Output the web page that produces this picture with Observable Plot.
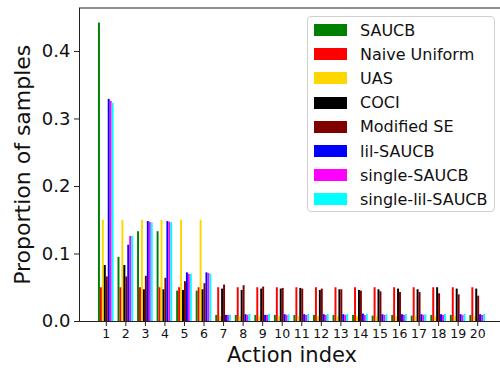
<!DOCTYPE html>
<html>
<head>
<meta charset="utf-8">
<script src="https://cdn.jsdelivr.net/npm/d3@7"></script>
<script src="https://cdn.jsdelivr.net/npm/@observablehq/plot@0.6"></script>
<style>
  html, body { margin: 0; padding: 0; background: #fff; }
  #wrap { position: relative; width: 500px; height: 371px; font-family: "DejaVu Sans", sans-serif; }
  #legend { position: absolute; left: 307px; top: 16px; width: 188px; height: 196px;
    border: 1px solid #d0d0d0; border-radius: 4px; background: rgba(255,255,255,0.85); box-sizing: border-box; }
  .item { position: absolute; left: 0; height: 24px; display: flex; align-items: center; font-size: 16px; color: #111; white-space: nowrap; }
  .sw { width: 33px; height: 12px; margin-left: 6px; margin-right: 13px; }
</style>
</head>
<body>
<div id="wrap"></div>
<script>
const actions = [1,2,3,4,5,6,7,8,9,10,11,12,13,14,15,16,17,18,19,20];
const seriesNames = ["SAUCB","Naive Uniform","UAS","COCI","Modified SE","lil-SAUCB","single-SAUCB","single-lil-SAUCB"];
const seriesColors = ["#008000","#ff0000","#ffd700","#000000","#800000","#0000ff","#ff00ff","#00ffff"];

const saucb = [0.442,0.095,0.133,0.133,0.045,0.045,0.009,0.009,0.009,0.009,0.009,0.009,0.009,0.009,0.008,0.009,0.008,0.009,0.009,0.009];
const naiveUniform = [0.05,0.05,0.05,0.05,0.05,0.05,0.05,0.05,0.05,0.05,0.05,0.05,0.05,0.05,0.05,0.05,0.05,0.05,0.05,0.05];
const uas = [0.15,0.15,0.15,0.15,0.15,0.15,0.007,0.007,0.007,0.007,0.007,0.007,0.007,0.007,0.007,0.007,0.007,0.007,0.007,0.007];
const coci = [0.083,0.083,0.047,0.047,0.046,0.047,0.048,0.046,0.048,0.048,0.049,0.046,0.047,0.046,0.047,0.048,0.047,0.05,0.048,0.048];
const modifiedSE = [0.066,0.066,0.067,0.064,0.059,0.056,0.054,0.053,0.051,0.049,0.048,0.048,0.047,0.045,0.044,0.043,0.043,0.041,0.0395,0.0375];
const lilSAUCB = [0.329,0.113,0.148,0.148,0.072,0.072,0.009,0.010,0.009,0.010,0.010,0.010,0.010,0.011,0.010,0.010,0.010,0.010,0.010,0.010];
const singleSAUCB = [0.326,0.126,0.147,0.147,0.070,0.071,0.009,0.009,0.009,0.009,0.009,0.009,0.009,0.009,0.009,0.009,0.009,0.009,0.009,0.009];
const singleLilSAUCB = [0.323,0.126,0.146,0.146,0.070,0.070,0.0095,0.0105,0.0105,0.010,0.0105,0.0105,0.0105,0.0105,0.010,0.0105,0.010,0.0105,0.0105,0.0105];
const yTicks = [0, 0.1, 0.2, 0.3, 0.4];

const allSeries = [saucb, naiveUniform, uas, coci, modifiedSE, lilSAUCB, singleSAUCB, singleLilSAUCB];
const barW = 0.1;
const rows = [];
allSeries.forEach((vals, i) => {
  vals.forEach((v, j) => {
    rows.push({action: actions[j], series: seriesNames[i], idx: i, value: v});
  });
});

const chart = Plot.plot({
  width: 500,
  height: 371,
  marginLeft: 79,
  marginRight: -4,
  marginTop: 7.5,
  marginBottom: 50,
  style: {fontFamily: "DejaVu Sans, sans-serif", background: "white", color: "#111"},
  x: {domain: [-0.37, 21.37]},
  y: {domain: [0, 0.4644]},
  color: {domain: seriesNames, range: seriesColors},
  marks: [
    Plot.rectY(rows, {
      x1: d => d.action - 0.4 + d.idx * barW,
      x2: d => d.action - 0.4 + (d.idx + 1) * barW,
      y1: 0,
      y2: "value",
      fill: "series"
    }),
    Plot.frame({stroke: "#222"}),
    Plot.axisY({ticks: yTicks, tickFormat: d3.format(".1f"), fontSize: 18, tickSize: 5, tickPadding: 4, label: null, stroke: "#222"}),
    Plot.axisX({ticks: actions, tickFormat: d => String(d), fontSize: 12.5, tickSize: 5, tickPadding: 3, label: null, stroke: "#222"}),
    Plot.text(["Proportion of samples"], {frameAnchor: "left", textAnchor: "middle", lineAnchor: "middle", rotate: -90, dx: -57, fontSize: 22, fill: "#111"}),
    Plot.text(["Action index"], {frameAnchor: "bottom", textAnchor: "middle", lineAnchor: "middle", dy: 34, fontSize: 21, fill: "#111"})
  ]
});

const wrap = document.getElementById("wrap");
wrap.appendChild(chart);

const legend = document.createElement("div");
legend.id = "legend";
seriesNames.forEach((name, i) => {
  const item = document.createElement("div");
  item.className = "item";
  item.style.top = (1 + i * 24.2) + "px";
  const sw = document.createElement("span");
  sw.className = "sw";
  sw.style.background = seriesColors[i];
  const label = document.createElement("span");
  label.textContent = name;
  item.appendChild(sw);
  item.appendChild(label);
  legend.appendChild(item);
});
wrap.appendChild(legend);
</script>
</body>
</html>
